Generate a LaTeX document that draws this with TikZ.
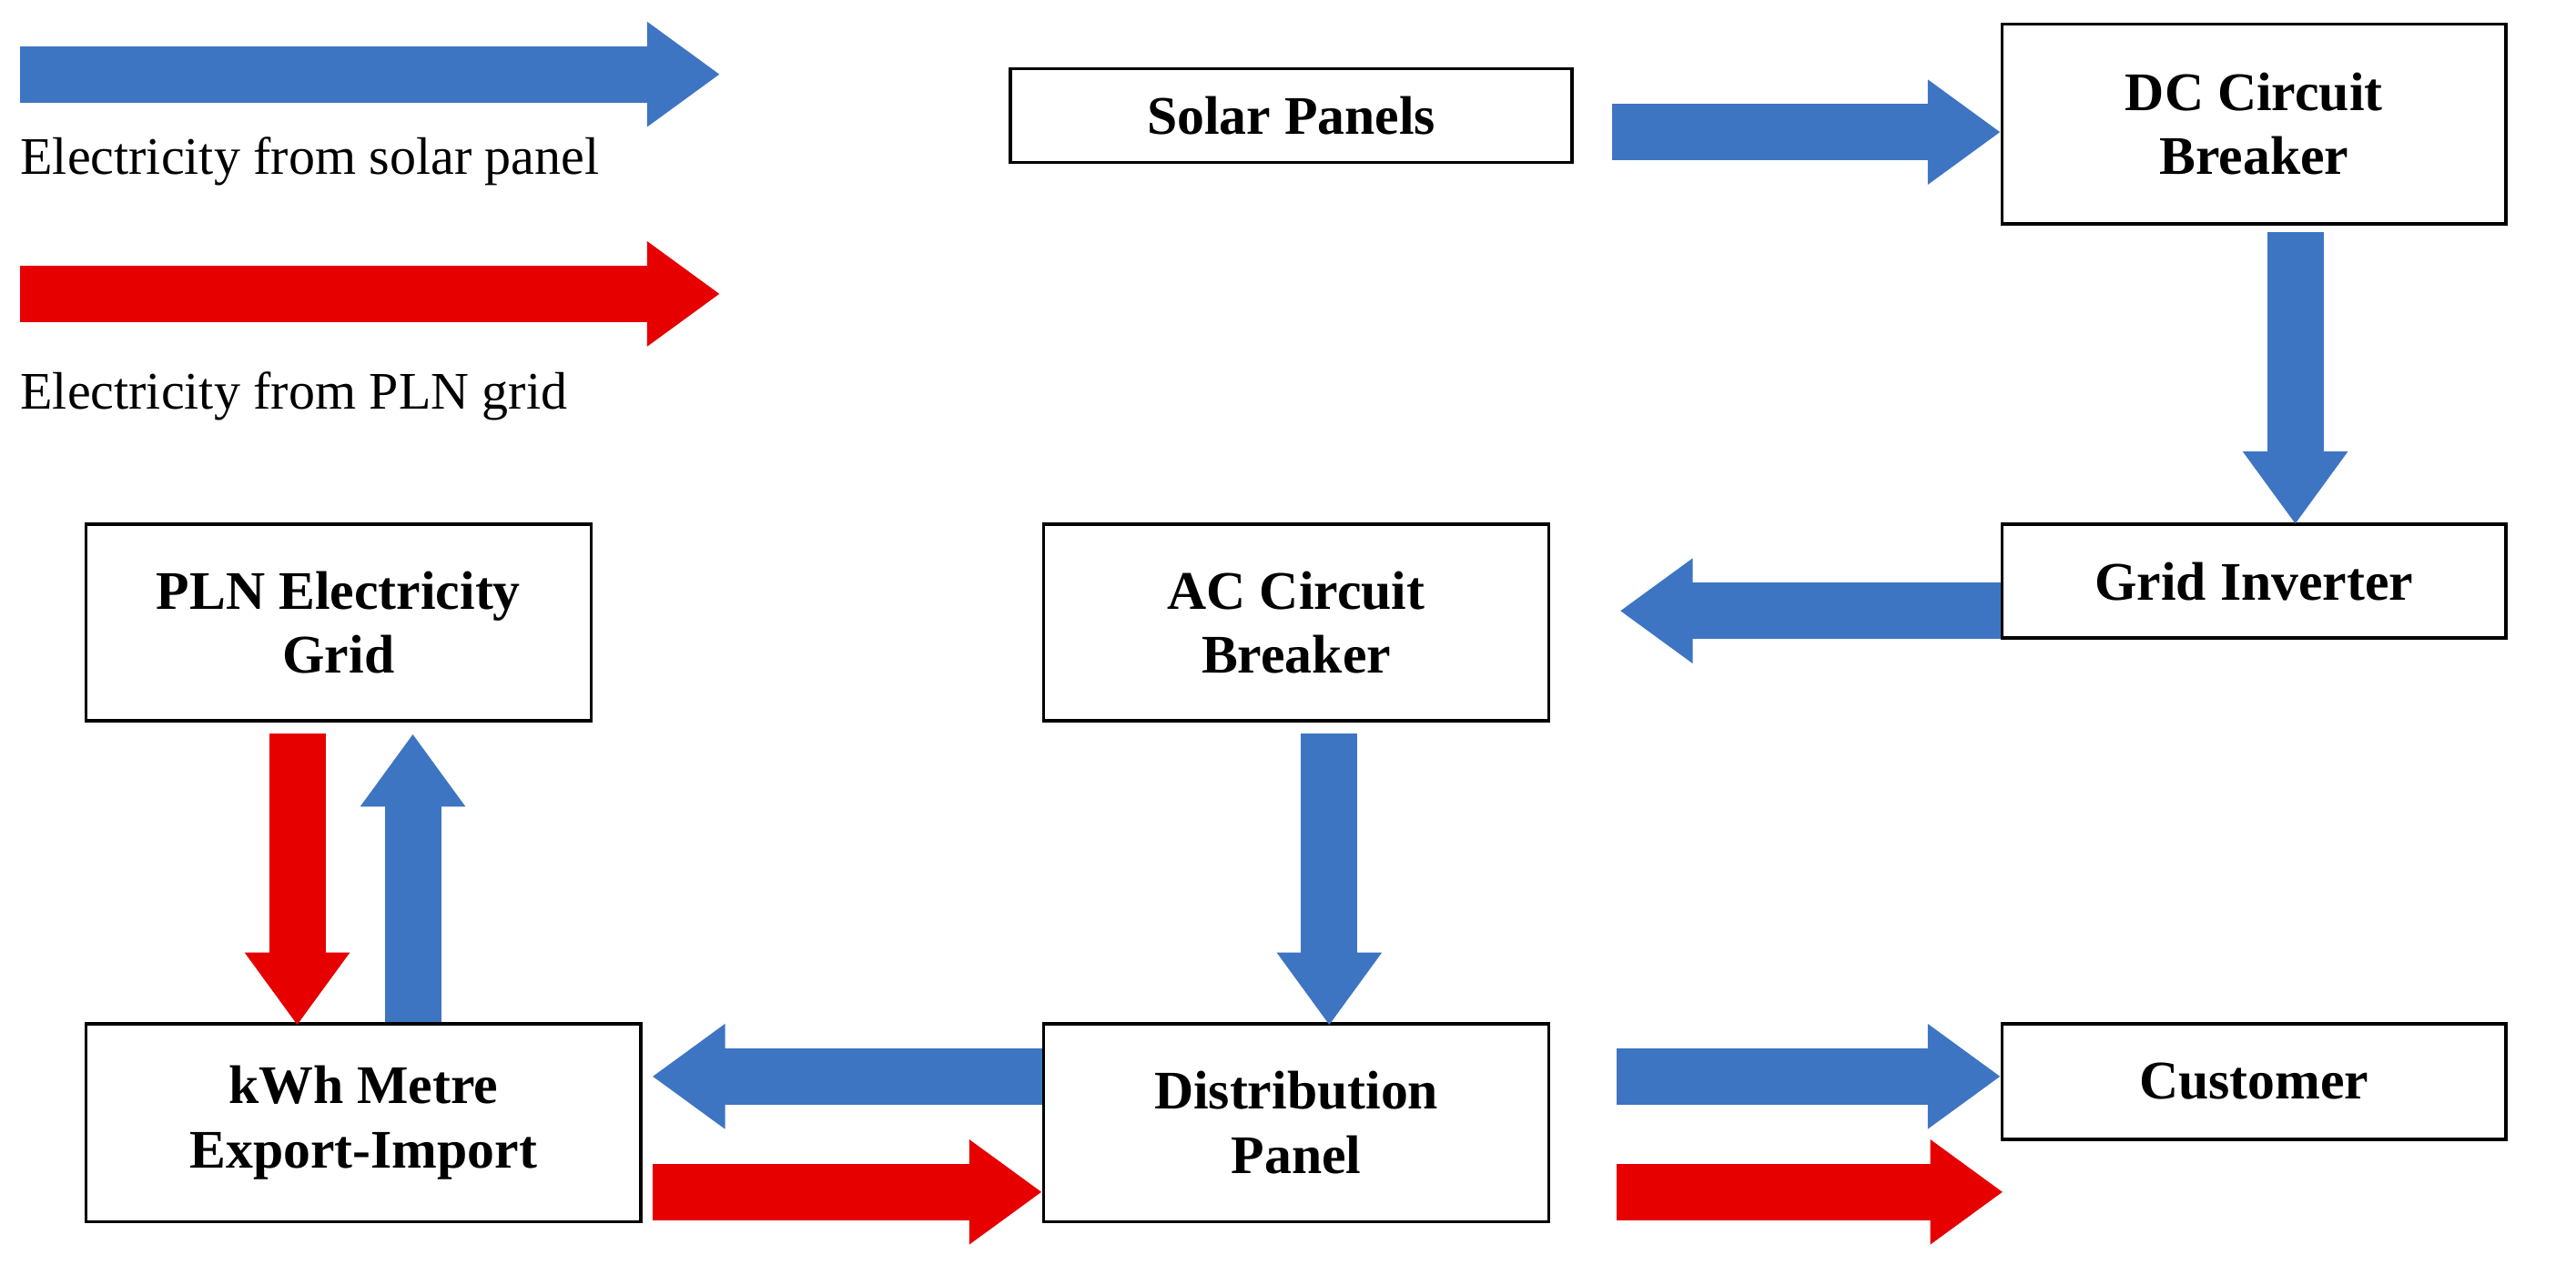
\documentclass[tikz,border=0pt]{standalone}
\usepackage{fontspec}
\setmainfont{Liberation Serif}
\usetikzlibrary{arrows.meta}
\definecolor{eblue}{RGB}{62,117,195}
\definecolor{ered}{RGB}{230,0,0}
\begin{document}
\begin{tikzpicture}[x=0.01814cm,y=-0.01814cm,
 box/.style={draw,line width=1pt,font=\fontsize{17}{20}\selectfont\bfseries,align=center,inner sep=0pt},
 ar/.style={line width=0.62cm,-{Triangle[length=0.8cm,width=1.1cm]}},
 ba/.style={ar,eblue}, ra/.style={ar,ered},
 lg/.style={font=\fontsize{16.5}{20}\selectfont,anchor=west,inner sep=0pt}]
\useasboundingbox (0,0) rectangle (1560,778);
\node[box,minimum width=340*0.01814cm,minimum height=57*0.01814cm] (sp) at (782,70) {Solar Panels};
\node[box,minimum width=305*0.01814cm,minimum height=121*0.01814cm] (dc) at (1365,75) {DC Circuit\\Breaker};
\node[box,minimum width=305*0.01814cm,minimum height=69*0.01814cm] (gi) at (1365,352) {Grid Inverter};
\node[box,minimum width=306*0.01814cm,minimum height=119*0.01814cm] (ac) at (785,377) {AC Circuit\\Breaker};
\node[box,minimum width=306*0.01814cm,minimum height=119*0.01814cm] (pln) at (205,377) {PLN Electricity\\Grid};
\node[box,minimum width=336*0.01814cm,minimum height=120*0.01814cm] (kwh) at (220,680) {kWh Metre\\Export-Import};
\node[box,minimum width=306*0.01814cm,minimum height=120*0.01814cm] (dp) at (785,680) {Distribution\\Panel};
\node[box,minimum width=305*0.01814cm,minimum height=70*0.01814cm] (cu) at (1365,655) {Customer};
% legend
\coordinate (l1a) at (12,45); \coordinate (l1b) at (436,45);
\coordinate (l2a) at (12,178); \coordinate (l2b) at (436,178);
\draw[ba] (l1a) -- (l1b);
\draw[ra] (l2a) -- (l2b);
\node[lg] (t1) at (12,98) {Electricity from solar panel};
\node[lg] (t2) at (12,240) {Electricity from PLN grid};
% flows
\draw[ba] ([xshift=23*0.01814cm,yshift=-10*0.01814cm]sp.east) -- ([yshift=-5*0.01814cm]dc.west);
\draw[ba] ([xshift=25*0.01814cm,yshift=-4*0.01814cm]dc.south) -- ([xshift=25*0.01814cm,yshift=-1*0.01814cm]gi.north);
\draw[ba] ([yshift=-18*0.01814cm]gi.west) -- ([xshift=42*0.01814cm,yshift=7*0.01814cm]ac.east);
\draw[ba] ([xshift=20*0.01814cm,yshift=-7*0.01814cm]ac.south) -- ([xshift=20*0.01814cm,yshift=-2*0.01814cm]dp.north);
\draw[ra] ([xshift=-25*0.01814cm,yshift=-7*0.01814cm]pln.south) -- ([xshift=-40*0.01814cm,yshift=-2*0.01814cm]kwh.north);
\draw[ba] ([xshift=30*0.01814cm]kwh.north) -- ([xshift=45*0.01814cm,yshift=-7*0.01814cm]pln.south);
\draw[ba] ([yshift=28*0.01814cm]dp.west) -- ([xshift=6*0.01814cm,yshift=28*0.01814cm]kwh.east);
\draw[ra] ([xshift=6*0.01814cm,yshift=-42*0.01814cm]kwh.east) -- ([yshift=-42*0.01814cm]dp.west);
\draw[ba] ([xshift=40*0.01814cm,yshift=28*0.01814cm]dp.east) -- ([yshift=3*0.01814cm]cu.west);
\coordinate (rend) at (1213,722);
\draw[ra] ([xshift=40*0.01814cm,yshift=-42*0.01814cm]dp.east) -- (rend);
\end{tikzpicture}
\end{document}
